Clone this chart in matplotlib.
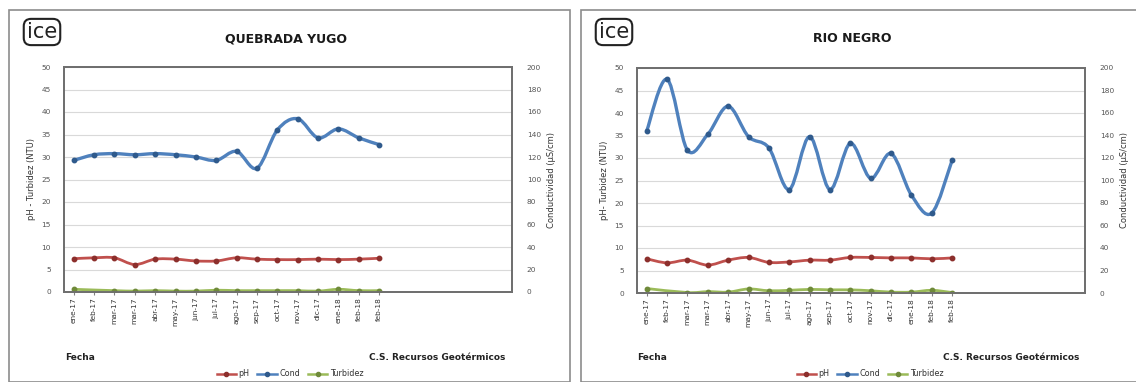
import matplotlib.pyplot as plt
import numpy as np
from matplotlib.path import Path
from matplotlib.patches import PathPatch, Rectangle

# sampling dates (category axis, two samples in march 2017 and february 2018)
fechas = ['ene-17', 'feb-17', 'mar-17', 'mar-17', 'abr-17', 'may-17', 'jun-17', 'jul-17',
          'ago-17', 'sep-17', 'oct-17', 'nov-17', 'dic-17', 'ene-18', 'feb-18', 'feb-18']

# Quebrada Yugo
yugo_ph = [7.4, 7.6, 7.6, 6.1, 7.3, 7.3, 6.9, 6.9, 7.6, 7.3, 7.2, 7.2, 7.3, 7.2, 7.3, 7.5]
yugo_cond = [117, 122, 123, 122, 123, 122, 120, 117, 125, 110, 144, 154, 137, 145, 137, 131]
yugo_turb = [0.6, np.nan, 0.3, 0.2, 0.3, 0.2, 0.2, 0.4, 0.3, 0.3, 0.3, 0.3, 0.2, 0.6, 0.3, 0.3]

# Rio Negro
negro_ph = [7.6, 6.7, 7.3, 6.2, 7.3, 7.9, 6.8, 6.9, 7.3, 7.3, 7.9, 7.9, 7.8, 7.8, 7.6, 7.8]
negro_cond = [144, 190, 127, 141, 166, 139, 129, 92, 139, 92, 133, 102, 124, 87, 71, 118]
negro_turb = [1.0, np.nan, 0.1, 0.3, 0.2, 0.9, 0.5, 0.6, 0.8, 0.7, 0.7, 0.5, 0.2, 0.2, 0.6, 0.1]

W, H = 1136, 382
c_ph = '#C0504D'
c_cond = '#4F81BD'
c_turb = '#9BBB59'


def box(x, y, w, h):
    # pixel box (from top-left) -> figure fraction
    return [x / W, 1 - (y + h) / H, w / W, h / H]


def smooth_line(ax, x, y, color, lw, mk_color):
    # Excel-style smoothed line: cubic bezier segments through the points
    x = np.asarray(x, float)
    y = np.asarray(y, float)
    ok = ~np.isnan(y)
    xs, ys = x[ok], y[ok]
    pts = np.column_stack([xs, ys])
    n = len(pts)
    verts = [pts[0]]
    codes = [Path.MOVETO]
    for i in range(n - 1):
        p0 = pts[i - 1] if i > 0 else pts[i]
        p3 = pts[i + 2] if i + 2 < n else pts[i + 1]
        c1 = pts[i] + (pts[i + 1] - p0) / 6
        c2 = pts[i + 1] - (p3 - pts[i]) / 6
        verts += [c1, c2, pts[i + 1]]
        codes += [Path.CURVE4] * 3
    ax.add_patch(PathPatch(Path(verts, codes), fill=False, edgecolor=color, lw=lw,
                           capstyle='round', joinstyle='round', zorder=3))
    ax.plot(xs, ys, 'o', ms=3.2, color=mk_color, mec=mk_color, zorder=4)


def panel(x0, frame_w, title, title_cx, ylab, ph, cond, turb, ax_x, ax_y, cs_right, leg_cx):
    fig.add_artist(Rectangle((x0 / W, 0), frame_w / W, 1 - 10 / H, transform=fig.transFigure,
                             fill=False, edgecolor='#8c8c8c', lw=1.2))
    # logo
    fig.text((x0 + 33) / W, 1 - 32 / H, 'ice', ha='center', va='center', fontsize=15,
             family='DejaVu Sans', color='#222222',
             bbox=dict(boxstyle='round,pad=0.15,rounding_size=0.35', fc='none', ec='#222222', lw=1.5))
    fig.text(title_cx / W, 1 - 39 / H, title, ha='center', va='center',
             fontsize=9, fontweight='bold', color='#1a1a1a')

    ax = fig.add_axes(box(ax_x, ax_y, 448, 225))
    ax2 = ax.twinx()
    idx = np.arange(len(fechas))

    smooth_line(ax, idx, ph, c_ph, 2.0, '#8c2f2c')
    smooth_line(ax, idx, turb, c_turb, 2.0, '#6f8a3a')
    smooth_line(ax2, idx, cond, c_cond, 2.4, '#2f5a8c')

    ax.set_xlim(-0.5, 21.5)
    ax.set_ylim(0, 50)
    ax2.set_ylim(0, 200)
    ax.set_yticks(np.arange(0, 51, 5))
    ax2.set_yticks(np.arange(0, 201, 20))
    ax.set_xticks(idx)
    ax.set_xticklabels(fechas, rotation=90, fontsize=5.3, color='#333333')
    ax.tick_params(axis='x', length=2, pad=2, color='#808080')
    ax.tick_params(axis='y', length=0, pad=9, labelsize=5.3, labelcolor='#555555')
    ax2.tick_params(axis='y', length=0, pad=11, labelsize=5.3, labelcolor='#555555')
    ax.grid(axis='y', color='#d9d9d9', lw=0.8)
    ax.set_axisbelow(True)
    for a in (ax, ax2):
        for s in a.spines.values():
            s.set_color('#6f6f6f')
            s.set_linewidth(1.3)
    ax.set_ylabel(ylab, fontsize=6, color='#333333', labelpad=4)
    ax2.set_ylabel('Conductividad (µS/cm)', fontsize=6, color='#333333', labelpad=4)

    fig.text((x0 + 56) / W, 1 - 357 / H, 'Fecha', ha='left', va='center',
             fontsize=6.5, fontweight='bold', color='#222222')
    fig.text(cs_right / W, 1 - 357 / H, 'C.S. Recursos Geotérmicos', ha='right',
             va='center', fontsize=6.5, fontweight='bold', color='#222222')

    handles = [plt.Line2D([], [], color=c, lw=1.8, marker='o', ms=3, mfc=m, mec=m)
               for c, m in ((c_ph, '#8c2f2c'), (c_cond, '#2f5a8c'), (c_turb, '#6f8a3a'))]
    fig.legend(handles, ['pH', 'Cond', 'Turbidez'], loc='center',
               bbox_to_anchor=(leg_cx / W, 1 - 374 / H), ncol=3, frameon=False,
               fontsize=5.8, handlelength=2.4, handletextpad=0.3, columnspacing=1.0,
               labelcolor='#333333')


fig = plt.figure(figsize=(W / 100, H / 100), dpi=100)

panel(9, 561, 'QUEBRADA YUGO', 286, 'pH - Turbidez (NTU)', yugo_ph, yugo_cond, yugo_turb,
      63.5, 67, 505, 290)
panel(581, 600, 'RIO NEGRO', 852, 'pH- Turbidez (NTU)', negro_ph, negro_cond, negro_turb,
      636.5, 68, 1079, 870)

fig.savefig('out.png', dpi=100)
